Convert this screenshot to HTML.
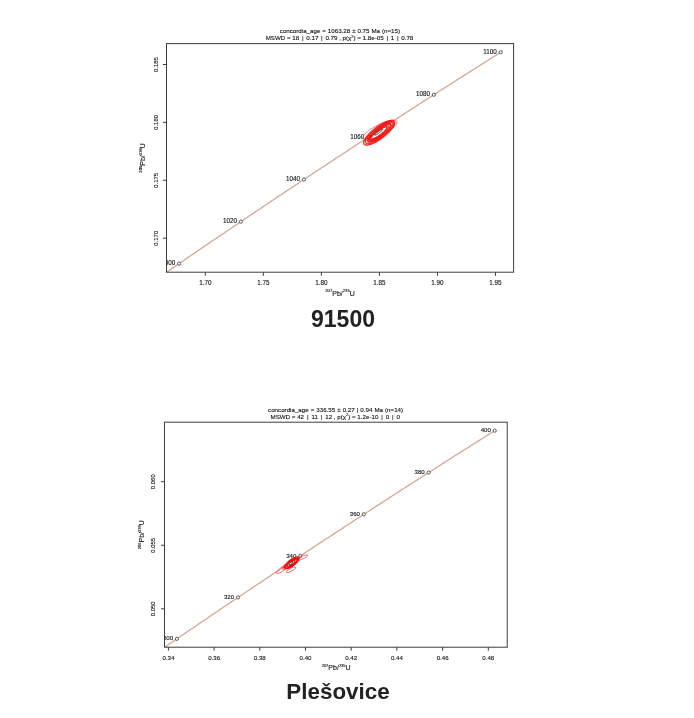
<!DOCTYPE html>
<html><head><meta charset="utf-8"><style>
html,body{margin:0;padding:0;background:#fff;}
body{width:694px;height:718px;overflow:hidden;position:relative;font-family:"Liberation Sans", sans-serif;}
svg{position:absolute;left:0;top:0;filter:blur(0.35px);}
svg text{font-family:"Liberation Sans", sans-serif;stroke:#111;stroke-width:0.12px;}
.cap{position:absolute;left:0;width:694px;text-align:center;font-family:"Liberation Sans", sans-serif;font-weight:bold;color:#222;white-space:nowrap;filter:blur(0.3px);}
</style></head><body>
<svg width="694" height="718" viewBox="0 0 694 718">
<g id="p1">
<clipPath id="c1"><rect x="166.5" y="43.6" width="347.1" height="228.6"/></clipPath>
<polyline clip-path="url(#c1)" points="148.62,284.59 150.14,283.54 151.65,282.50 153.17,281.45 154.69,280.40 156.21,279.35 157.73,278.31 159.25,277.26 160.77,276.21 162.29,275.16 163.81,274.12 165.33,273.07 166.86,272.02 168.38,270.97 169.91,269.92 171.44,268.87 172.96,267.83 174.49,266.78 176.02,265.73 177.55,264.68 179.08,263.63 180.61,262.58 182.14,261.53 183.67,260.48 185.21,259.43 186.74,258.39 188.27,257.34 189.81,256.29 191.35,255.24 192.88,254.19 194.42,253.14 195.96,252.09 197.50,251.04 199.04,249.99 200.58,248.94 202.12,247.89 203.66,246.84 205.20,245.79 206.75,244.74 208.29,243.69 209.84,242.64 211.38,241.59 212.93,240.54 214.48,239.48 216.03,238.43 217.57,237.38 219.12,236.33 220.68,235.28 222.23,234.23 223.78,233.18 225.33,232.13 226.88,231.08 228.44,230.02 229.99,228.97 231.55,227.92 233.11,226.87 234.66,225.82 236.22,224.77 237.78,223.71 239.34,222.66 240.90,221.61 242.46,220.56 244.03,219.51 245.59,218.45 247.15,217.40 248.72,216.35 250.28,215.30 251.85,214.24 253.41,213.19 254.98,212.14 256.55,211.08 258.12,210.03 259.69,208.98 261.26,207.92 262.83,206.87 264.40,205.82 265.97,204.76 267.55,203.71 269.12,202.66 270.70,201.60 272.27,200.55 273.85,199.50 275.43,198.44 277.01,197.39 278.58,196.33 280.16,195.28 281.75,194.23 283.33,193.17 284.91,192.12 286.49,191.06 288.08,190.01 289.66,188.95 291.25,187.90 292.83,186.84 294.42,185.79 296.01,184.73 297.59,183.68 299.18,182.62 300.77,181.57 302.36,180.51 303.96,179.46 305.55,178.40 307.14,177.35 308.73,176.29 310.33,175.24 311.92,174.18 313.52,173.12 315.12,172.07 316.72,171.01 318.31,169.96 319.91,168.90 321.51,167.84 323.12,166.79 324.72,165.73 326.32,164.67 327.92,163.62 329.53,162.56 331.13,161.50 332.74,160.45 334.34,159.39 335.95,158.33 337.56,157.28 339.17,156.22 340.78,155.16 342.39,154.10 344.00,153.05 345.61,151.99 347.22,150.93 348.84,149.87 350.45,148.82 352.07,147.76 353.68,146.70 355.30,145.64 356.92,144.58 358.54,143.53 360.16,142.47 361.78,141.41 363.40,140.35 365.02,139.29 366.64,138.23 368.26,137.18 369.89,136.12 371.51,135.06 373.14,134.00 374.76,132.94 376.39,131.88 378.02,130.82 379.65,129.76 381.28,128.70 382.91,127.64 384.54,126.58 386.17,125.53 387.80,124.47 389.44,123.41 391.07,122.35 392.71,121.29 394.34,120.23 395.98,119.17 397.62,118.11 399.26,117.05 400.90,115.99 402.54,114.93 404.18,113.86 405.82,112.80 407.46,111.74 409.10,110.68 410.75,109.62 412.39,108.56 414.04,107.50 415.69,106.44 417.33,105.38 418.98,104.32 420.63,103.26 422.28,102.19 423.93,101.13 425.58,100.07 427.23,99.01 428.89,97.95 430.54,96.89 432.20,95.82 433.85,94.76 435.51,93.70 437.16,92.64 438.82,91.58 440.48,90.51 442.14,89.45 443.80,88.39 445.46,87.33 447.12,86.26 448.79,85.20 450.45,84.14 452.11,83.08 453.78,82.01 455.45,80.95 457.11,79.89 458.78,78.82 460.45,77.76 462.12,76.70 463.79,75.63 465.46,74.57 467.13,73.51 468.80,72.44 470.48,71.38 472.15,70.31 473.83,69.25 475.50,68.19 477.18,67.12 478.86,66.06 480.54,64.99 482.22,63.93 483.90,62.87 485.58,61.80 487.26,60.74 488.94,59.67 490.62,58.61 492.31,57.54 493.99,56.48 495.68,55.41 497.37,54.35 499.05,53.28 500.74,52.22" fill="none" stroke="#d3a595" stroke-width="1.25"/>
<circle cx="179.08" cy="263.63" r="1.6" fill="#fff" stroke="#333" stroke-width="0.8" clip-path="url(#c1)"/>
<text x="175.18" y="265.23" text-anchor="end" font-size="6.3" fill="#111" clip-path="url(#c1)">1000</text>
<circle cx="240.90" cy="221.61" r="1.6" fill="#fff" stroke="#333" stroke-width="0.8" clip-path="url(#c1)"/>
<text x="237.00" y="223.21" text-anchor="end" font-size="6.3" fill="#111" clip-path="url(#c1)">1020</text>
<circle cx="303.96" cy="179.46" r="1.6" fill="#fff" stroke="#333" stroke-width="0.8" clip-path="url(#c1)"/>
<text x="300.06" y="181.06" text-anchor="end" font-size="6.3" fill="#111" clip-path="url(#c1)">1040</text>
<circle cx="368.26" cy="137.18" r="1.6" fill="#fff" stroke="#333" stroke-width="0.8" clip-path="url(#c1)"/>
<text x="364.36" y="138.78" text-anchor="end" font-size="6.3" fill="#111" clip-path="url(#c1)">1060</text>
<circle cx="433.85" cy="94.76" r="1.6" fill="#fff" stroke="#333" stroke-width="0.8" clip-path="url(#c1)"/>
<text x="429.95" y="96.36" text-anchor="end" font-size="6.3" fill="#111" clip-path="url(#c1)">1080</text>
<circle cx="500.74" cy="52.22" r="1.6" fill="#fff" stroke="#333" stroke-width="0.8" clip-path="url(#c1)"/>
<text x="496.84" y="53.82" text-anchor="end" font-size="6.3" fill="#111" clip-path="url(#c1)">1100</text>
<ellipse cx="380.0" cy="130.0" rx="19.2" ry="5.5" transform="rotate(-27 380.0 130.0)" fill="none" stroke="#e04848" stroke-width="0.55"/>
<ellipse cx="379.15" cy="132.79" rx="9.49" ry="1.93" transform="rotate(-37.0 379.15 132.79)" fill="none" stroke="#f01010" stroke-width="0.7"/>
<ellipse cx="378.57" cy="133.23" rx="10.64" ry="2.31" transform="rotate(-37.0 378.57 133.23)" fill="none" stroke="#f01010" stroke-width="0.7"/>
<ellipse cx="378.94" cy="132.95" rx="10.65" ry="2.76" transform="rotate(-37.0 378.94 132.95)" fill="none" stroke="#f01010" stroke-width="0.7"/>
<ellipse cx="379.34" cy="132.64" rx="11.63" ry="3.19" transform="rotate(-37.0 379.34 132.64)" fill="none" stroke="#f01010" stroke-width="0.7"/>
<ellipse cx="379.67" cy="132.4" rx="13.07" ry="3.21" transform="rotate(-37.0 379.67 132.4)" fill="none" stroke="#f01010" stroke-width="0.7"/>
<ellipse cx="380.11" cy="132.07" rx="12.96" ry="3.63" transform="rotate(-37.0 380.11 132.07)" fill="none" stroke="#f01010" stroke-width="0.7"/>
<ellipse cx="379.73" cy="132.35" rx="14.12" ry="4.03" transform="rotate(-37.0 379.73 132.35)" fill="none" stroke="#f01010" stroke-width="0.7"/>
<ellipse cx="379.57" cy="132.47" rx="14.28" ry="4.37" transform="rotate(-37.0 379.57 132.47)" fill="none" stroke="#f01010" stroke-width="0.7"/>
<ellipse cx="380.1" cy="132.07" rx="15.28" ry="4.26" transform="rotate(-37.0 380.1 132.07)" fill="none" stroke="#f01010" stroke-width="0.7"/>
<ellipse cx="380.13" cy="132.05" rx="16.21" ry="5.01" transform="rotate(-37.0 380.13 132.05)" fill="none" stroke="#f01010" stroke-width="0.7"/>
<ellipse cx="379.2" cy="132.75" rx="17.21" ry="5.46" transform="rotate(-37.0 379.2 132.75)" fill="none" stroke="#f01010" stroke-width="0.7"/>
<ellipse cx="380.23" cy="131.97" rx="18.03" ry="5.51" transform="rotate(-37.0 380.23 131.97)" fill="none" stroke="#f01010" stroke-width="0.7"/>
<ellipse cx="378.7" cy="133.13" rx="18.84" ry="5.63" transform="rotate(-37.0 378.7 133.13)" fill="none" stroke="#f01010" stroke-width="0.7"/>
<ellipse cx="379.28" cy="132.69" rx="18.76" ry="6.48" transform="rotate(-37.0 379.28 132.69)" fill="none" stroke="#f01010" stroke-width="0.7"/>
<ellipse cx="378.7" cy="132.2" rx="5.0" ry="0.8" transform="rotate(-37.0 378.7 132.2)" fill="#fff" stroke="#000" stroke-width="0.6"/>
<rect x="166.5" y="43.6" width="347.1" height="228.6" fill="none" stroke="#3c3c3c" stroke-width="1.0"/>
<line x1="205.30" y1="272.2" x2="205.30" y2="275.8" stroke="#3c3c3c" stroke-width="1.0"/>
<text x="205.30" y="284.9" text-anchor="middle" font-size="6.3" fill="#111">1.70</text>
<line x1="263.34" y1="272.2" x2="263.34" y2="275.8" stroke="#3c3c3c" stroke-width="1.0"/>
<text x="263.34" y="284.9" text-anchor="middle" font-size="6.3" fill="#111">1.75</text>
<line x1="321.38" y1="272.2" x2="321.38" y2="275.8" stroke="#3c3c3c" stroke-width="1.0"/>
<text x="321.38" y="284.9" text-anchor="middle" font-size="6.3" fill="#111">1.80</text>
<line x1="379.42" y1="272.2" x2="379.42" y2="275.8" stroke="#3c3c3c" stroke-width="1.0"/>
<text x="379.42" y="284.9" text-anchor="middle" font-size="6.3" fill="#111">1.85</text>
<line x1="437.46" y1="272.2" x2="437.46" y2="275.8" stroke="#3c3c3c" stroke-width="1.0"/>
<text x="437.46" y="284.9" text-anchor="middle" font-size="6.3" fill="#111">1.90</text>
<line x1="495.50" y1="272.2" x2="495.50" y2="275.8" stroke="#3c3c3c" stroke-width="1.0"/>
<text x="495.50" y="284.9" text-anchor="middle" font-size="6.3" fill="#111">1.95</text>
<line x1="166.5" y1="238.20" x2="162.9" y2="238.20" stroke="#3c3c3c" stroke-width="1.0"/>
<text x="158.00" y="238.20" transform="rotate(-90 158.00 238.20)" text-anchor="middle" font-size="5.95" fill="#111">0.170</text>
<line x1="166.5" y1="180.30" x2="162.9" y2="180.30" stroke="#3c3c3c" stroke-width="1.0"/>
<text x="158.00" y="180.30" transform="rotate(-90 158.00 180.30)" text-anchor="middle" font-size="5.95" fill="#111">0.175</text>
<line x1="166.5" y1="122.40" x2="162.9" y2="122.40" stroke="#3c3c3c" stroke-width="1.0"/>
<text x="158.00" y="122.40" transform="rotate(-90 158.00 122.40)" text-anchor="middle" font-size="5.95" fill="#111">0.180</text>
<line x1="166.5" y1="64.50" x2="162.9" y2="64.50" stroke="#3c3c3c" stroke-width="1.0"/>
<text x="158.00" y="64.50" transform="rotate(-90 158.00 64.50)" text-anchor="middle" font-size="5.95" fill="#111">0.185</text>
<text x="340.05" y="295.5" text-anchor="middle" font-size="7.0" fill="#111"><tspan font-size="4.16" dy="-3.4">207</tspan><tspan dy="3.4">Pb/</tspan><tspan font-size="4.16" dy="-3.4">235</tspan><tspan dy="3.4">U</tspan></text>
<text x="145.00" y="157.90" transform="rotate(-90 145.00 157.90)" text-anchor="middle" font-size="7.0" fill="#111"><tspan font-size="4.16" dy="-3.4">206</tspan><tspan dy="3.4">Pb/</tspan><tspan font-size="4.16" dy="-3.4">238</tspan><tspan dy="3.4">U</tspan></text>
<text x="339.9" y="33.4" text-anchor="middle" font-size="6.2" fill="#111" style="white-space:pre;word-spacing:0.2px">concordia_age = 1063.28 ± 0.75 Ma (n=15)</text>
<text x="339.5" y="40.4" text-anchor="middle" font-size="6.2" fill="#111" style="white-space:pre;word-spacing:0px">MSWD = 18<tspan style="word-spacing:1.0px"> | </tspan>0.17<tspan style="word-spacing:1.0px"> | </tspan>0.79 , p(χ<tspan font-size="4" dy="-2.5">2</tspan><tspan dy="2.5">)</tspan> = 1.8e-05<tspan style="word-spacing:1.0px"> | </tspan>1<tspan style="word-spacing:1.0px"> | </tspan>0.78</text>
</g>
<g id="p2">
<clipPath id="c2"><rect x="164.5" y="422.2" width="342.7" height="225.00000000000006"/></clipPath>
<polyline clip-path="url(#c2)" points="146.85,659.47 148.35,658.44 149.85,657.41 151.34,656.37 152.84,655.34 154.34,654.31 155.85,653.28 157.35,652.25 158.85,651.22 160.35,650.18 161.86,649.15 163.36,648.12 164.87,647.09 166.37,646.06 167.88,645.02 169.39,643.99 170.90,642.96 172.41,641.93 173.92,640.89 175.43,639.86 176.94,638.83 178.45,637.80 179.97,636.76 181.48,635.73 182.99,634.70 184.51,633.66 186.03,632.63 187.54,631.60 189.06,630.56 190.58,629.53 192.10,628.50 193.62,627.46 195.14,626.43 196.66,625.40 198.18,624.36 199.70,623.33 201.23,622.29 202.75,621.26 204.28,620.23 205.80,619.19 207.33,618.16 208.86,617.12 210.38,616.09 211.91,615.05 213.44,614.02 214.97,612.98 216.50,611.95 218.04,610.91 219.57,609.88 221.10,608.84 222.64,607.81 224.17,606.77 225.71,605.74 227.24,604.70 228.78,603.67 230.32,602.63 231.86,601.60 233.40,600.56 234.94,599.53 236.48,598.49 238.02,597.45 239.56,596.42 241.10,595.38 242.65,594.35 244.19,593.31 245.74,592.27 247.28,591.24 248.83,590.20 250.38,589.16 251.93,588.13 253.48,587.09 255.03,586.05 256.58,585.02 258.13,583.98 259.68,582.94 261.23,581.90 262.79,580.87 264.34,579.83 265.90,578.79 267.45,577.76 269.01,576.72 270.57,575.68 272.13,574.64 273.69,573.60 275.25,572.57 276.81,571.53 278.37,570.49 279.93,569.45 281.49,568.41 283.06,567.38 284.62,566.34 286.19,565.30 287.75,564.26 289.32,563.22 290.89,562.18 292.46,561.14 294.03,560.11 295.60,559.07 297.17,558.03 298.74,556.99 300.31,555.95 301.88,554.91 303.46,553.87 305.03,552.83 306.61,551.79 308.18,550.75 309.76,549.71 311.34,548.67 312.92,547.63 314.50,546.59 316.08,545.55 317.66,544.51 319.24,543.47 320.82,542.43 322.41,541.39 323.99,540.35 325.57,539.31 327.16,538.27 328.75,537.23 330.33,536.19 331.92,535.15 333.51,534.11 335.10,533.07 336.69,532.03 338.28,530.99 339.87,529.94 341.46,528.90 343.06,527.86 344.65,526.82 346.25,525.78 347.84,524.74 349.44,523.70 351.04,522.65 352.63,521.61 354.23,520.57 355.83,519.53 357.43,518.49 359.04,517.44 360.64,516.40 362.24,515.36 363.84,514.32 365.45,513.27 367.05,512.23 368.66,511.19 370.27,510.15 371.87,509.10 373.48,508.06 375.09,507.02 376.70,505.97 378.31,504.93 379.92,503.89 381.54,502.85 383.15,501.80 384.76,500.76 386.38,499.71 387.99,498.67 389.61,497.63 391.23,496.58 392.84,495.54 394.46,494.50 396.08,493.45 397.70,492.41 399.32,491.36 400.95,490.32 402.57,489.27 404.19,488.23 405.82,487.19 407.44,486.14 409.07,485.10 410.69,484.05 412.32,483.01 413.95,481.96 415.58,480.92 417.21,479.87 418.84,478.83 420.47,477.78 422.10,476.74 423.74,475.69 425.37,474.65 427.00,473.60 428.64,472.55 430.28,471.51 431.91,470.46 433.55,469.42 435.19,468.37 436.83,467.33 438.47,466.28 440.11,465.23 441.75,464.19 443.40,463.14 445.04,462.09 446.68,461.05 448.33,460.00 449.97,458.95 451.62,457.91 453.27,456.86 454.92,455.81 456.57,454.77 458.22,453.72 459.87,452.67 461.52,451.62 463.17,450.58 464.83,449.53 466.48,448.48 468.13,447.43 469.79,446.39 471.45,445.34 473.10,444.29 474.76,443.24 476.42,442.20 478.08,441.15 479.74,440.10 481.40,439.05 483.07,438.00 484.73,436.95 486.39,435.91 488.06,434.86 489.72,433.81 491.39,432.76 493.06,431.71 494.72,430.66" fill="none" stroke="#d3a595" stroke-width="1.25"/>
<circle cx="176.94" cy="638.83" r="1.6" fill="#fff" stroke="#333" stroke-width="0.8" clip-path="url(#c2)"/>
<text x="173.04" y="640.43" text-anchor="end" font-size="6.1" fill="#111" clip-path="url(#c2)">300</text>
<circle cx="238.02" cy="597.45" r="1.6" fill="#fff" stroke="#333" stroke-width="0.8" clip-path="url(#c2)"/>
<text x="234.12" y="599.05" text-anchor="end" font-size="6.1" fill="#111" clip-path="url(#c2)">320</text>
<circle cx="300.31" cy="555.95" r="1.6" fill="#fff" stroke="#333" stroke-width="0.8" clip-path="url(#c2)"/>
<text x="296.41" y="557.55" text-anchor="end" font-size="6.1" fill="#111" clip-path="url(#c2)">340</text>
<circle cx="363.84" cy="514.32" r="1.6" fill="#fff" stroke="#333" stroke-width="0.8" clip-path="url(#c2)"/>
<text x="359.94" y="515.92" text-anchor="end" font-size="6.1" fill="#111" clip-path="url(#c2)">360</text>
<circle cx="428.64" cy="472.55" r="1.6" fill="#fff" stroke="#333" stroke-width="0.8" clip-path="url(#c2)"/>
<text x="424.74" y="474.15" text-anchor="end" font-size="6.1" fill="#111" clip-path="url(#c2)">380</text>
<circle cx="494.72" cy="430.66" r="1.6" fill="#fff" stroke="#333" stroke-width="0.8" clip-path="url(#c2)"/>
<text x="490.82" y="432.26" text-anchor="end" font-size="6.1" fill="#111" clip-path="url(#c2)">400</text>
<ellipse cx="291.6" cy="563.0" rx="8.2" ry="2.8" transform="rotate(-33.5 291.6 563.0)" fill="none" stroke="#f00000" stroke-width="0.7"/>
<ellipse cx="291.0" cy="563.6" rx="7.8" ry="2.2" transform="rotate(-33.5 291.0 563.6)" fill="none" stroke="#f00000" stroke-width="0.7"/>
<ellipse cx="291.8" cy="562.8" rx="8.6" ry="3.2" transform="rotate(-37 291.8 562.8)" fill="none" stroke="#f00000" stroke-width="0.7"/>
<ellipse cx="292.4" cy="562.4" rx="6.8" ry="2.4" transform="rotate(-31 292.4 562.4)" fill="none" stroke="#f00000" stroke-width="0.7"/>
<ellipse cx="290.6" cy="564.0" rx="7.2" ry="2.6" transform="rotate(-38 290.6 564.0)" fill="none" stroke="#f00000" stroke-width="0.7"/>
<ellipse cx="292.0" cy="562.6" rx="9.0" ry="3.5" transform="rotate(-35 292.0 562.6)" fill="none" stroke="#f00000" stroke-width="0.6"/>
<ellipse cx="290.8" cy="564.0" rx="8.4" ry="1.8" transform="rotate(-31 290.8 564.0)" fill="none" stroke="#f00000" stroke-width="0.7"/>
<ellipse cx="292.6" cy="562.2" rx="7.4" ry="1.6" transform="rotate(-33.5 292.6 562.2)" fill="none" stroke="#f00000" stroke-width="0.7"/>
<ellipse cx="289.8" cy="564.6" rx="6.0" ry="1.6" transform="rotate(-40 289.8 564.6)" fill="none" stroke="#f00000" stroke-width="0.7"/>
<ellipse cx="291.2" cy="563.3" rx="4.6" ry="1.4" transform="rotate(-33.5 291.2 563.3)" fill="none" stroke="#f00000" stroke-width="0.7"/>
<ellipse cx="301.4" cy="557.9" rx="6.9" ry="1.5" transform="rotate(-22 301.4 557.9)" fill="none" stroke="#f03030" stroke-width="0.6"/>
<ellipse cx="283.3" cy="568.4" rx="8.6" ry="2.0" transform="rotate(-35 283.3 568.4)" fill="none" stroke="#f03030" stroke-width="0.6"/>
<ellipse cx="291.0" cy="569.8" rx="5.3" ry="1.5" transform="rotate(-28 291.0 569.8)" fill="none" stroke="#f03030" stroke-width="0.6"/>
<ellipse cx="286.3" cy="566.0" rx="5.0" ry="1.8" transform="rotate(-33.5 286.3 566.0)" fill="none" stroke="#f03030" stroke-width="0.6"/>
<ellipse cx="290.7" cy="563.3" rx="2.0" ry="0.9" transform="rotate(-33.5 290.7 563.3)" fill="#fff" stroke="#000" stroke-width="0.6"/>
<rect x="164.5" y="422.2" width="342.7" height="225.00000000000006" fill="none" stroke="#3c3c3c" stroke-width="1.0"/>
<line x1="168.40" y1="647.2" x2="168.40" y2="650.7" stroke="#3c3c3c" stroke-width="1.0"/>
<text x="168.40" y="660.0" text-anchor="middle" font-size="6.1" fill="#111">0.34</text>
<line x1="214.10" y1="647.2" x2="214.10" y2="650.7" stroke="#3c3c3c" stroke-width="1.0"/>
<text x="214.10" y="660.0" text-anchor="middle" font-size="6.1" fill="#111">0.36</text>
<line x1="259.80" y1="647.2" x2="259.80" y2="650.7" stroke="#3c3c3c" stroke-width="1.0"/>
<text x="259.80" y="660.0" text-anchor="middle" font-size="6.1" fill="#111">0.38</text>
<line x1="305.50" y1="647.2" x2="305.50" y2="650.7" stroke="#3c3c3c" stroke-width="1.0"/>
<text x="305.50" y="660.0" text-anchor="middle" font-size="6.1" fill="#111">0.40</text>
<line x1="351.20" y1="647.2" x2="351.20" y2="650.7" stroke="#3c3c3c" stroke-width="1.0"/>
<text x="351.20" y="660.0" text-anchor="middle" font-size="6.1" fill="#111">0.42</text>
<line x1="396.90" y1="647.2" x2="396.90" y2="650.7" stroke="#3c3c3c" stroke-width="1.0"/>
<text x="396.90" y="660.0" text-anchor="middle" font-size="6.1" fill="#111">0.44</text>
<line x1="442.60" y1="647.2" x2="442.60" y2="650.7" stroke="#3c3c3c" stroke-width="1.0"/>
<text x="442.60" y="660.0" text-anchor="middle" font-size="6.1" fill="#111">0.46</text>
<line x1="488.30" y1="647.2" x2="488.30" y2="650.7" stroke="#3c3c3c" stroke-width="1.0"/>
<text x="488.30" y="660.0" text-anchor="middle" font-size="6.1" fill="#111">0.48</text>
<line x1="164.5" y1="608.80" x2="161.0" y2="608.80" stroke="#3c3c3c" stroke-width="1.0"/>
<text x="155.30" y="608.80" transform="rotate(-90 155.30 608.80)" text-anchor="middle" font-size="5.95" fill="#111">0.050</text>
<line x1="164.5" y1="545.25" x2="161.0" y2="545.25" stroke="#3c3c3c" stroke-width="1.0"/>
<text x="155.30" y="545.25" transform="rotate(-90 155.30 545.25)" text-anchor="middle" font-size="5.95" fill="#111">0.055</text>
<line x1="164.5" y1="481.70" x2="161.0" y2="481.70" stroke="#3c3c3c" stroke-width="1.0"/>
<text x="155.30" y="481.70" transform="rotate(-90 155.30 481.70)" text-anchor="middle" font-size="5.95" fill="#111">0.060</text>
<text x="336.15" y="670.2" text-anchor="middle" font-size="7.0" fill="#111"><tspan font-size="4.03" dy="-3.4">207</tspan><tspan dy="3.4">Pb/</tspan><tspan font-size="4.03" dy="-3.4">235</tspan><tspan dy="3.4">U</tspan></text>
<text x="144.20" y="534.70" transform="rotate(-90 144.20 534.70)" text-anchor="middle" font-size="7.0" fill="#111"><tspan font-size="4.03" dy="-3.4">206</tspan><tspan dy="3.4">Pb/</tspan><tspan font-size="4.03" dy="-3.4">238</tspan><tspan dy="3.4">U</tspan></text>
<text x="335.6" y="411.8" text-anchor="middle" font-size="6.2" fill="#111" style="white-space:pre;word-spacing:0.3px">concordia_age = 336.55 ± 0.27 | 0.94 Ma (n=14)</text>
<text x="335.25" y="418.7" text-anchor="middle" font-size="6.2" fill="#111" style="white-space:pre;word-spacing:0px">MSWD = 42<tspan style="word-spacing:1.15px"> | </tspan>11<tspan style="word-spacing:1.15px"> | </tspan>12 , p(χ<tspan font-size="4" dy="-2.5">2</tspan><tspan dy="2.5">)</tspan> = 1.2e-10<tspan style="word-spacing:1.15px"> | </tspan>0<tspan style="word-spacing:1.15px"> | </tspan>0</text>
</g>
</svg>
<div class="cap" style="top:304px;left:-4px;font-size:23px;line-height:30px;">91500</div>
<div class="cap" style="top:677.2px;left:-9px;font-size:22.4px;line-height:30px;">Plešovice</div>
</body></html>
